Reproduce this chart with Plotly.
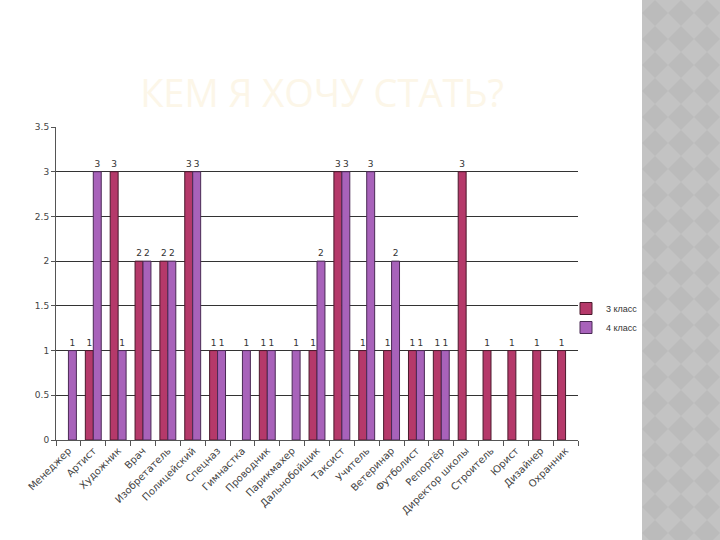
import plotly.graph_objects as go

categories = ["Менеджер", "Артист", "Художник", "Врач", "Изобретатель", "Полицейский",
              "Спецназ", "Гимнастка", "Проводник", "Парикмахер", "Дальнобойщик", "Таксист",
              "Учитель", "Ветеринар", "Футболист", "Репортёр", "Директор школы", "Строитель",
              "Юрист", "Дизайнер", "Охранник"]
class3 = [None, 1, 3, 2, 2, 3, 1, None, 1, None, 1, 3, 1, 1, 1, 1, 3, 1, 1, 1, 1]
class4 = [1, 3, 1, 2, 2, 3, 1, 1, 1, 1, 2, 3, 3, 2, 1, 1, None, None, None, None, None]
series_names = ["3 класс", "4 класс"]
y_ticks = [0, 0.5, 1, 1.5, 2, 2.5, 3, 3.5]

W, H = 720, 540
L, R, T, B = 56, 142, 127, 100

fig = go.Figure()
fig.add_trace(go.Bar(name=series_names[0], x=categories, y=class3, marker_color="#B5396A",
                     marker_line=dict(color="#4a1a2c", width=1),
                     text=class3, textposition="outside", cliponaxis=False,
                     textfont=dict(size=9, color="#333")))
fig.add_trace(go.Bar(name=series_names[1], x=categories, y=class4, marker_color="#A862BA",
                     marker_line=dict(color="#4a2a55", width=1),
                     text=class4, textposition="outside", cliponaxis=False,
                     textfont=dict(size=9, color="#333")))

pw = W - L - R
ph = H - T - B
def px(x):
    return (x - L) / pw
def py(y):
    return (H - B - y) / ph

shapes = []
# gray decorative strip on the right
shapes.append(dict(type="rect", xref="paper", yref="paper", x0=px(642), x1=px(W + 2),
                   y0=py(H + 2), y1=py(-2), fillcolor="#BBBBBB", line_width=0, layer="below"))
# subtle diamond checker pattern
d = 26
for row in range(-1, 23):
    for col in range(-1, 5):
        cx = 642 + col * d
        cy = row * d
        path = "M {} {} L {} {} L {} {} L {} {} Z".format(
            px(cx), py(cy - d / 2), px(cx + d / 2), py(cy), px(cx), py(cy + d / 2), px(cx - d / 2), py(cy))
        shapes.append(dict(type="path", xref="paper", yref="paper", path=path,
                           fillcolor="#C3C3C3", line_width=0, layer="below"))
# white cover to the left of the strip
shapes.append(dict(type="rect", xref="paper", yref="paper", x0=px(600), x1=px(642),
                   y0=py(H + 2), y1=py(-2), fillcolor="white", line_width=0, layer="below"))

fig.update_layout(
    width=W, height=H,
    margin=dict(l=L, r=R, t=T, b=B, autoexpand=False),
    paper_bgcolor="white", plot_bgcolor="rgba(0,0,0,0)",
    barmode="group", bargap=0.36, bargroupgap=0,
    font=dict(family="DejaVu Sans", size=10, color="#333"),
    title=dict(text="КЕМ Я ХОЧУ СТАТЬ?", x=322 / W, xanchor="center", y=1 - 94 / H, yanchor="middle",
               font=dict(family="Open Sans", size=38, color="#FCF6E8")),
    legend=dict(x=px(566), y=py(318), xanchor="left", yanchor="middle",
                font=dict(family="Liberation Sans", size=9, color="#333"), bgcolor="rgba(0,0,0,0)",
                tracegroupgap=0),
    shapes=shapes,
    xaxis=dict(type="category", tickangle=-45, ticks="outside", tickson="boundaries",
               ticklen=5, tickcolor="#555", showline=True, linecolor="#555", linewidth=1,
               tickfont=dict(size=10, color="#444"), showgrid=False, automargin=False),
    yaxis=dict(range=[0, 3.5], tickvals=y_ticks, ticktext=[("%g" % v) for v in y_ticks],
               ticks="outside", ticklen=4, tickcolor="#555", showline=True, linecolor="#555",
               showgrid=True, gridcolor="#333", gridwidth=1, zeroline=False,
               tickfont=dict(size=9, color="#444"), automargin=False),
)
fig.write_html("out.html", config={"displayModeBar": False},
               post_script="document.body.style.margin='0';document.body.style.overflow='hidden';")
